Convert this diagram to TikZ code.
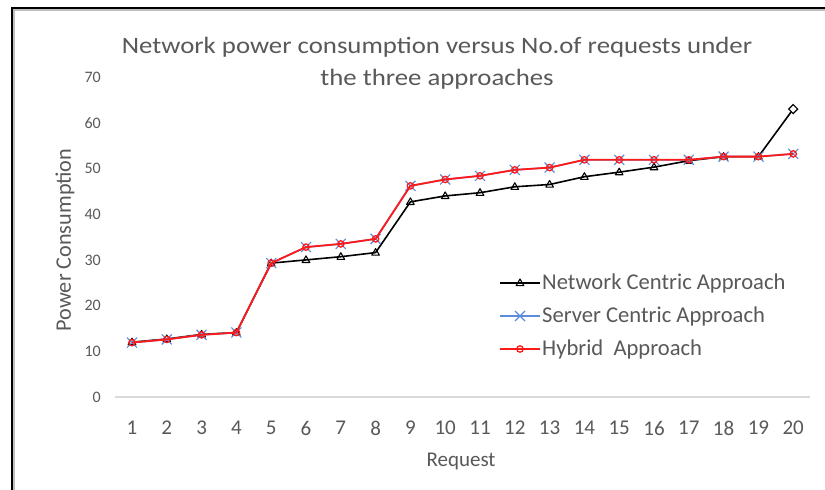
\documentclass[tikz,border=0pt]{standalone}
\usepackage{fontspec}
\setmainfont{Carlito}
\definecolor{txt}{HTML}{595959}
\definecolor{srv}{HTML}{5B8BD9}
\definecolor{hyb}{HTML}{FF1A1A}
\definecolor{zeroline}{HTML}{D9D9D9}
\tikzset{
  tri/.pic={\draw[black, line width=1.1pt, line join=round] (0,-4) -- (3.8,2.6) -- (-3.8,2.6) -- cycle;},
  diam/.pic={\draw[black, line width=1.2pt, fill=white] (0,-4.5) -- (4.5,0) -- (0,4.5) -- (-4.5,0) -- cycle;},
  xmark/.pic={\draw[srv, line width=1.1pt] (-5,-5) -- (5,5) (-5,5) -- (5,-5);},
  omark/.pic={\draw[hyb, line width=1.3pt] (0,0) circle (3.2);},
  netline/.style={black, line width=1.6pt, line join=round},
  srvline/.style={srv, line width=1.6pt, line join=round},
  hybline/.style={hyb, line width=1.8pt, line join=round},
  ticklab/.style={text=txt, font=\fontsize{21}{24}\selectfont, inner sep=0pt},
  ylab/.style={text=txt, font=\fontsize{16}{18}\selectfont, inner sep=0pt, anchor=east},
  legtext/.style={text=txt, font=\fontsize{22.6}{26}\selectfont, inner sep=0pt, anchor=west},
}
\begin{document}
\begin{tikzpicture}[x=1pt, y=-1pt]
\useasboundingbox (0,0) rectangle (825,490);
\fill[white] (0,0) rectangle (825,490);

% outer frame
\coordinate (fbl) at (12,492);
\coordinate (ftl) at (12,8);
\coordinate (ftr) at (827,8);
\draw[black!25, line width=2pt] ([xshift=2pt,yshift=-2pt]fbl) -- ([xshift=2pt,yshift=-2pt]ftl) -- ([yshift=-2pt]ftr);
\draw[black, line width=2.4pt] (fbl) -- (ftl) -- (ftr);

% title
\node[text=txt, font=\fontsize{23.5}{32}\selectfont, align=center] (title) at (437,63)
  {\scalebox{1.14}[1]{Network power consumption versus No.of requests under}\\
   \scalebox{1.14}[1]{the three approaches}};

% y tick labels
\foreach \t in {0,10,...,70}
  \node[ylab] (y\t) at (101,{397-\t*4.57}) {\t};

% zero line
\coordinate (z0) at (115,397);
\coordinate (z1) at (810,397);
\draw[zeroline, line width=1.5pt] (z0) -- (z1);

% x tick labels
\foreach \i in {1,...,20}
  \node[ticklab] (x\i) at ({132+(\i-1)*34.8},428) {\i};

% axis titles
\node[text=txt, font=\fontsize{22.2}{26}\selectfont, rotate=90] (ytitle) at (65,240) {Power Consumption};
\node[text=txt, font=\fontsize{21}{24}\selectfont] (xtitle) at (461,461) {Request};

% data points
\foreach \v [count=\i] in {12,12.7,13.7,14.1,29.3,30.0,30.7,31.6,42.7,44.0,44.7,46.0,46.5,48.2,49.2,50.3,51.7,52.6,52.6,63.0}
  \coordinate (n\i) at ({132+(\i-1)*34.8},{397-\v*4.57});
\foreach \v [count=\i] in {11.9,12.6,13.6,14.1,29.3,32.8,33.5,34.6,46.2,47.6,48.4,49.7,50.2,51.9,51.9,51.9,51.9,52.6,52.6,53.2}
  \coordinate (h\i) at ({132+(\i-1)*34.8},{397-\v*4.57});

% network centric series
\draw[netline] (n1) \foreach \i in {2,...,20} { -- (n\i) };
\foreach \i in {1,...,19} \pic at (n\i) {tri};
\pic at (n20) {diam};

% server centric series
\draw[srvline] (h1) \foreach \i in {2,...,20} { -- (h\i) };
\foreach \i in {1,...,20} \pic at (h\i) {xmark};

% hybrid series
\draw[hybline] (h1) \foreach \i in {2,...,20} { -- (h\i) };
\foreach \i in {1,...,20} \pic at (h\i) {omark};

% legend
\coordinate (la1) at (500,283); \coordinate (lb1) at (540,283);
\coordinate (la2) at (500,316); \coordinate (lb2) at (540,316);
\coordinate (la3) at (500,349); \coordinate (lb3) at (540,349);
\draw[netline] (la1) -- (lb1); \pic at (520,283) {tri};
\draw[srvline] (la2) -- (lb2); \pic at (520,316) {xmark};
\draw[hybline] (la3) -- (lb3); \pic at (520,349) {omark};
\node[legtext] (leg1) at (542,283) {Network Centric Approach};
\node[legtext] (leg2) at (542,316) {Server Centric Approach};
\node[legtext] (leg3) at (542,349) {Hybrid\ \ Approach};
\end{tikzpicture}
\end{document}
